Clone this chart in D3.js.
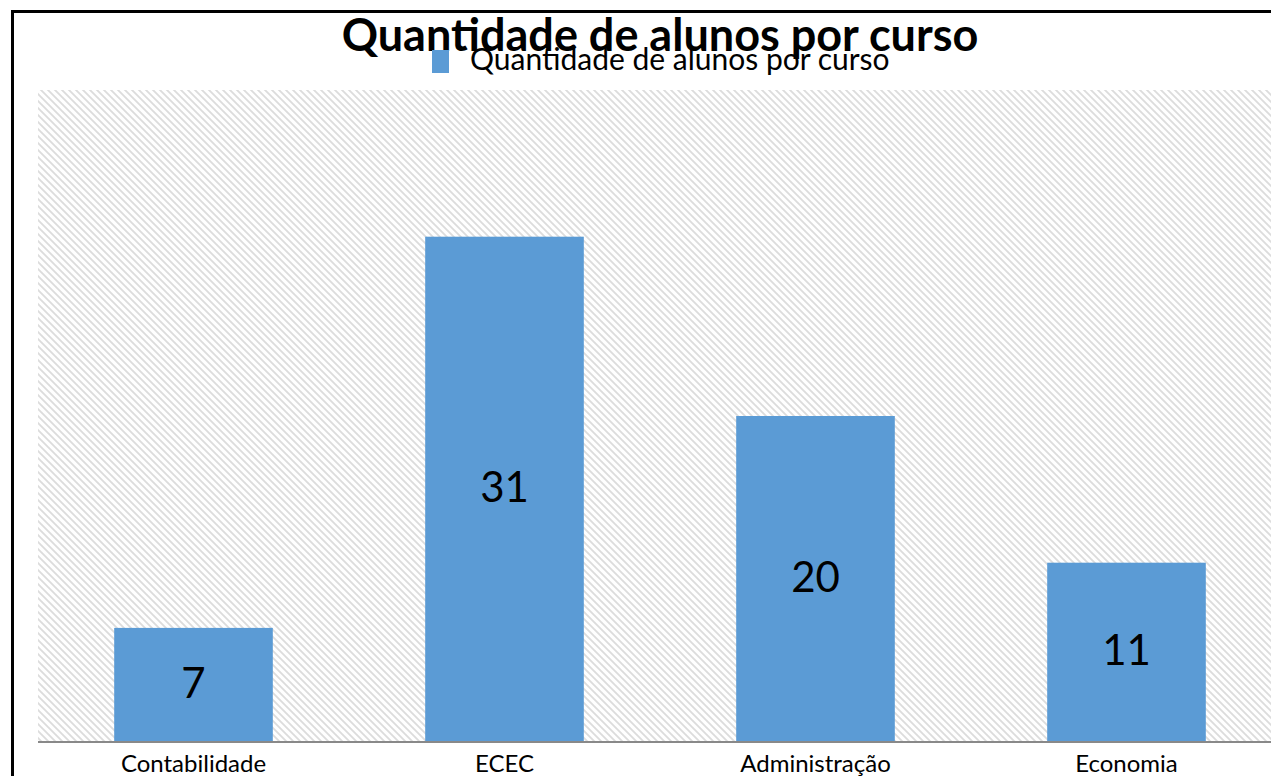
<!DOCTYPE html>
<html lang="pt">
<head>
<meta charset="UTF-8">
<title>Quantidade de alunos por curso</title>
<script src="https://d3js.org/d3.v7.min.js"></script>
<style>
  body { margin: 0; background: #fff; }
  svg { display: block; }
</style>
</head>
<body>
<svg id="main" width="1271" height="776"></svg>
<script>
    // data
    let cursos = ['Contabilidade', 'ECEC', 'Administração', 'Economia'];
    let alunos = [7, 31, 20, 11];
    let serieNome = 'Quantidade de alunos por curso';
    let titulo = 'Quantidade de alunos por curso';

    let svg = d3.select('#main');
    let W = 1271, H = 776;
    let plot = {left: 38, right: 1282, top: 90, bottom: 742};
    let font = 'Lato, "Open Sans", sans-serif';

    // hatch pattern for the plot area
    let defs = svg.append('defs');
    let pat = defs.append('pattern')
        .attr('id', 'hatch')
        .attr('patternUnits', 'userSpaceOnUse')
        .attr('width', 7).attr('height', 7);
    pat.append('rect').attr('width', 7).attr('height', 7).attr('fill', '#fff');
    pat.append('path')
        .attr('d', 'M-1,-1 L8,8 M-1,6 L1,8 M6,-1 L8,1')
        .attr('stroke', '#dcdcdc')
        .attr('stroke-width', 1.8);

    // chart frame
    svg.append('path')
        .attr('d', 'M12.5,' + H + ' L12.5,11.5 L' + W + ',11.5')
        .attr('fill', 'none')
        .attr('stroke', '#000')
        .attr('stroke-width', 3);

    svg.append('rect')
        .attr('x', plot.left).attr('y', plot.top)
        .attr('width', plot.right - plot.left)
        .attr('height', plot.bottom - plot.top)
        .attr('fill', 'url(#hatch)');

    let xScale = d3.scaleBand()
        .domain(cursos)
        .range([plot.left, plot.right])
        .paddingInner(0.49)
        .paddingOuter(0.245);

    let yScale = d3.scaleLinear()
        .domain([0, 40])
        .range([plot.bottom, plot.top]);

    let data = cursos.map(function(c, i){ return {curso: c, valor: alunos[i]}; });

    svg.selectAll('rect.bar')
        .data(data)
        .enter()
        .append('rect')
        .attr('class', 'bar')
        .attr('x', function(d){ return xScale(d.curso); })
        .attr('y', function(d){ return yScale(d.valor); })
        .attr('width', xScale.bandwidth())
        .attr('height', function(d){ return yScale(0) - yScale(d.valor); })
        .attr('fill', '#5b9bd5');

    // value labels, centred in each bar
    svg.selectAll('text.valor')
        .data(data)
        .enter()
        .append('text')
        .attr('class', 'valor')
        .attr('x', function(d){ return xScale(d.curso) + xScale.bandwidth() / 2; })
        .attr('y', function(d){ return (yScale(d.valor) + yScale(0)) / 2; })
        .attr('dy', '0.3em')
        .attr('text-anchor', 'middle')
        .style('font-family', font)
        .style('font-size', '42px')
        .attr('fill', '#000')
        .text(function(d){ return d.valor; });

    // x axis
    let xAxis = svg.append('g')
        .attr('transform', 'translate(0,' + plot.bottom + ')')
        .call(d3.axisBottom(xScale).tickSize(0).tickPadding(13));
    xAxis.select('.domain').remove();
    xAxis.append('line')
        .attr('x1', plot.left).attr('x2', W)
        .attr('stroke', '#898989').attr('stroke-width', 2);
    xAxis.selectAll('text')
        .style('font-family', font)
        .style('font-size', '24px')
        .attr('fill', '#000');

    // title
    svg.append('text')
        .attr('x', 660).attr('y', 51)
        .attr('text-anchor', 'middle')
        .style('font-family', font)
        .style('font-weight', 'bold')
        .style('font-size', '45px')
        .attr('fill', '#000')
        .text(titulo);

    // legend
    let leg = svg.append('g').attr('transform', 'translate(432,50)');
    leg.append('rect')
        .attr('width', 17).attr('height', 23)
        .attr('fill', '#5b9bd5');
    leg.append('text')
        .attr('x', 38).attr('y', 20)
        .style('font-family', font)
        .style('font-size', '30px')
        .attr('fill', '#000')
        .text(serieNome);
</script>
</body>
</html>
